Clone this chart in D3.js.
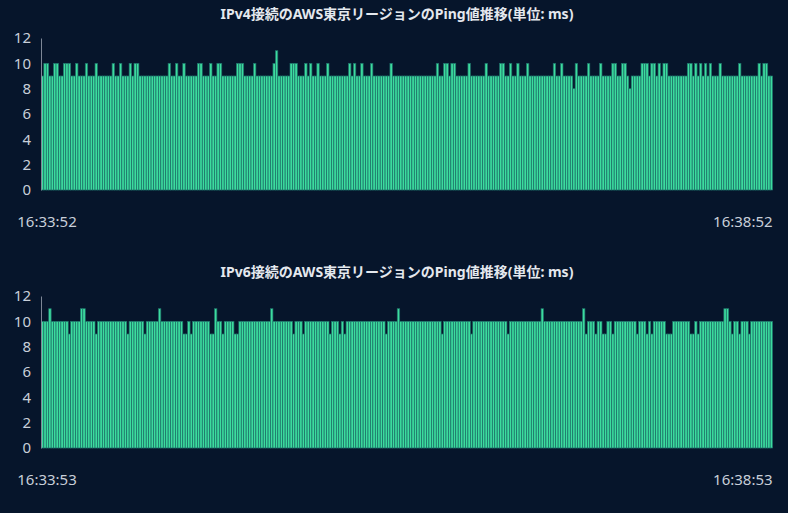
<!DOCTYPE html>
<html>
<head>
<meta charset="utf-8">
<script src="https://cdn.jsdelivr.net/npm/d3@7"></script>
<style>
  html, body { margin: 0; padding: 0; background: #06152b; }
  svg { display: block; }
</style>
</head>
<body>
<div id="chart"></div>
<script>
// ping values (ms), one per second
const ipv4Values = [
  9,10,10,9,9,10,10,9,9,10,10,10,9,9,10,9,9,9,10,9,
  9,9,10,9,9,9,9,9,9,10,9,9,10,9,9,9,10,9,10,10,
  9,9,9,9,9,9,9,9,9,9,9,9,10,9,9,10,9,9,10,9,
  9,9,9,9,10,10,9,9,9,10,9,9,10,10,9,9,9,9,9,9,
  10,10,10,9,9,9,9,10,9,9,9,9,9,9,9,10,11,9,9,9,
  9,9,10,10,10,9,9,9,10,9,10,9,9,10,9,9,9,10,9,9,
  9,9,9,9,9,9,10,9,10,9,9,10,9,9,9,10,9,9,9,9,
  9,9,9,10,9,9,9,9,9,9,9,9,9,9,9,9,9,9,9,9,
  9,9,10,9,9,10,10,9,10,10,9,9,9,9,9,10,9,9,9,9,
  9,9,10,9,9,9,9,9,10,10,9,9,10,9,9,10,9,9,9,10,
  9,9,9,9,9,9,9,9,9,9,10,9,9,10,9,9,9,9,8,10,
  9,9,9,9,10,9,9,9,9,10,9,9,9,9,10,10,9,9,10,10,
  9,8,9,9,9,9,10,10,10,9,10,10,9,10,9,10,10,9,9,9,
  9,9,9,9,9,10,10,9,10,9,10,9,10,9,10,9,9,9,10,9,
  9,9,9,9,9,9,10,9,9,9,9,9,9,9,10,9,10,10,9,9
];
const ipv6Values = [
  10,10,10,11,10,10,10,10,10,10,10,9,10,10,10,10,11,11,10,10,
  10,10,9,10,10,10,10,10,10,10,10,10,10,10,10,9,10,10,10,10,
  10,10,9,10,10,10,10,10,11,10,10,10,10,10,10,10,10,10,9,9,
  10,9,10,10,10,10,10,10,10,9,9,11,10,10,9,10,10,10,10,9,
  9,10,10,10,10,10,10,10,10,10,10,10,10,10,11,10,10,10,10,10,
  10,10,10,9,10,10,10,9,10,10,10,10,10,10,10,10,10,10,9,10,
  10,10,9,10,9,10,10,10,10,10,10,10,10,10,10,10,10,10,10,10,
  10,9,10,10,10,10,11,10,10,10,10,10,10,10,10,10,10,10,10,10,
  10,10,10,10,9,10,10,10,10,10,10,10,10,10,10,10,9,10,10,10,
  10,10,10,10,10,10,10,10,10,10,10,9,10,10,10,10,10,10,10,10,
  10,10,10,10,10,11,10,10,10,10,10,10,10,10,10,10,10,10,10,10,
  10,10,11,9,10,10,10,9,10,10,9,9,10,10,9,10,10,10,10,10,
  10,10,10,10,9,10,10,10,9,10,9,10,10,10,10,10,9,9,9,10,
  10,10,10,10,10,10,9,9,10,9,10,10,10,10,10,10,10,10,10,10,
  11,11,10,9,10,10,9,10,10,10,9,10,10,10,10,10,10,10,10,10
];
const ipv4TickLabels = ["16:33:52", "16:38:52"];
const ipv6TickLabels = ["16:33:53", "16:38:53"];
const yTicks = [0, 2, 4, 6, 8, 10, 12];
const titles = [
  "IPv4接続のAWS東京リージョンのPing値推移(単位: ms)",
  "IPv6接続のAWS東京リージョンのPing値推移(単位: ms)"
];

const width = 788, height = 513;
const font = "'Noto Sans', 'Noto Sans CJK JP', sans-serif";

const svg = d3.select("#chart").append("svg")
    .attr("width", width)
    .attr("height", height);

function drawPanel(top, title, values, tickLabels) {
    const g = svg.append("g").attr("transform", `translate(0, ${top})`);

    const x = d3.scaleBand()
        .domain(d3.range(values.length))
        .range([41.4, 772.6])
        .padding(0);
    const y = d3.scaleLinear().domain([0, 12]).range([190, 38]);

    g.append("text")
        .attr("x", 397)
        .attr("y", 19)
        .attr("text-anchor", "middle")
        .style("font-family", font)
        .style("font-size", "14px")
        .style("font-weight", "bold")
        .style("fill", "#e4e8ee")
        .text(title);

    g.selectAll("rect.bar")
        .data(values)
        .enter().append("rect")
        .attr("class", "bar")
        .attr("x", (d, i) => x(i))
        .attr("width", x.bandwidth())
        .attr("y", d => y(d))
        .attr("height", d => y(0) - y(d))
        .style("fill", "#3cdc9e")
        .style("stroke", "#1e6e68")
        .style("stroke-width", 0.7);

    const yAxis = g.append("g")
        .attr("transform", "translate(41, 0)")
        .call(d3.axisLeft(y).tickValues(yTicks).tickSize(0).tickPadding(10));
    yAxis.select(".domain").attr("stroke", "#7d8796");
    yAxis.selectAll("text")
        .style("font-family", font)
        .style("font-size", "15px")
        .style("fill", "#c8cfd9");

    // first and last time labels only
    g.append("text")
        .attr("x", 47)
        .attr("y", 227)
        .attr("text-anchor", "middle")
        .style("font-family", font)
        .style("font-size", "15px")
        .style("fill", "#c8cfd9")
        .text(tickLabels[0]);
    g.append("text")
        .attr("x", x.range()[1])
        .attr("y", 227)
        .attr("text-anchor", "end")
        .style("font-family", font)
        .style("font-size", "15px")
        .style("fill", "#c8cfd9")
        .text(tickLabels[1]);
}

drawPanel(0, titles[0], ipv4Values, ipv4TickLabels);
drawPanel(258, titles[1], ipv6Values, ipv6TickLabels);
</script>
</body>
</html>
